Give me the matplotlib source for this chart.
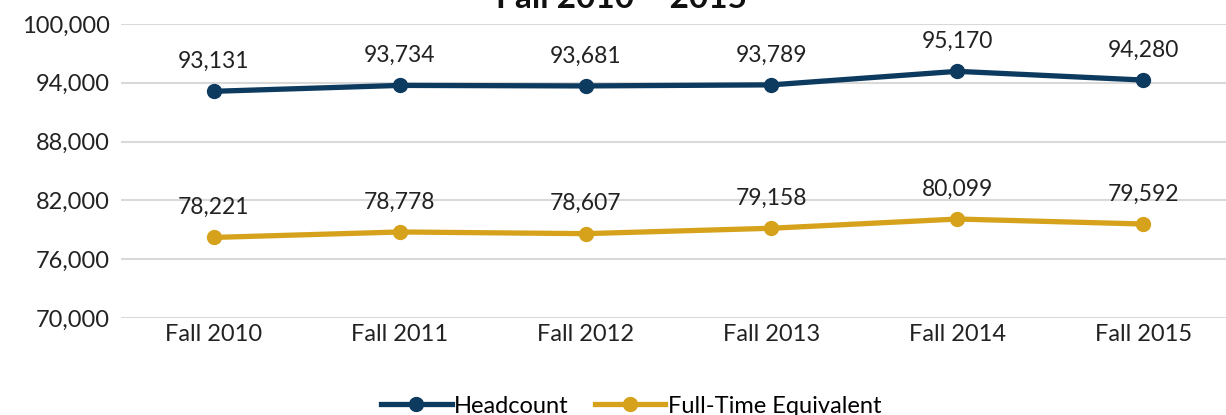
import numpy as np
import matplotlib.pyplot as plt
from matplotlib.ticker import FuncFormatter

plt.rcParams['font.family'] = ['Lato', 'DejaVu Sans']

years = ["Fall 2010", "Fall 2011", "Fall 2012", "Fall 2013", "Fall 2014", "Fall 2015"]
headcount = [93131, 93734, 93681, 93789, 95170, 94280]
fte = [78221, 78778, 78607, 79158, 80099, 79592]

navy = "#0D3A5F"
gold = "#D6A21C"

fig = plt.figure(figsize=(12.26, 4.15), dpi=100)
ax = fig.add_axes([121 / 1226, 97 / 415, 1115 / 1226, 294 / 415])

x = np.arange(len(years))
ax.plot(x, headcount, color=navy, lw=3.8, marker="o", ms=10, label="Headcount")
ax.plot(x, fte, color=gold, lw=3.8, marker="o", ms=10, label="Full-Time Equivalent")

for xi, v in zip(x, headcount):
    ax.annotate(f"{v:,}", (xi, v), xytext=(0, 14), textcoords="offset points",
                ha="center", va="bottom", fontsize=16.5, color="#222222")
for xi, v in zip(x, fte):
    ax.annotate(f"{v:,}", (xi, v), xytext=(0, 14), textcoords="offset points",
                ha="center", va="bottom", fontsize=16.5, color="#222222")

ax.set_xlim(-0.5, 5.5)
ax.set_ylim(70000, 100000)
ax.set_yticks(np.arange(70000, 100001, 6000))
ax.yaxis.set_major_formatter(FuncFormatter(lambda v, p: f"{int(v):,}"))
ax.set_xticks(x)
ax.set_xticklabels(years)
ax.tick_params(length=0, labelsize=17, colors="#222222", pad=4)
ax.tick_params(axis="y", pad=8)
ax.grid(axis="y", color="#D9D9D9", lw=1.5)
ax.set_axisbelow(True)
for s in ax.spines.values():
    s.set_visible(False)

fig.text(621 / 1226, 1 - 8 / 415, "Fall 2010 \u2013 2015", ha="center", va="baseline",
         fontsize=24, fontweight="bold", color="#111111")

leg = fig.legend(loc="center", bbox_to_anchor=(631 / 1226, 1 - 406 / 415), ncol=2,
                 frameon=False, fontsize=17, handlelength=3, columnspacing=1.1,
                 handletextpad=0.1)

fig.savefig("out.png", dpi=100)
